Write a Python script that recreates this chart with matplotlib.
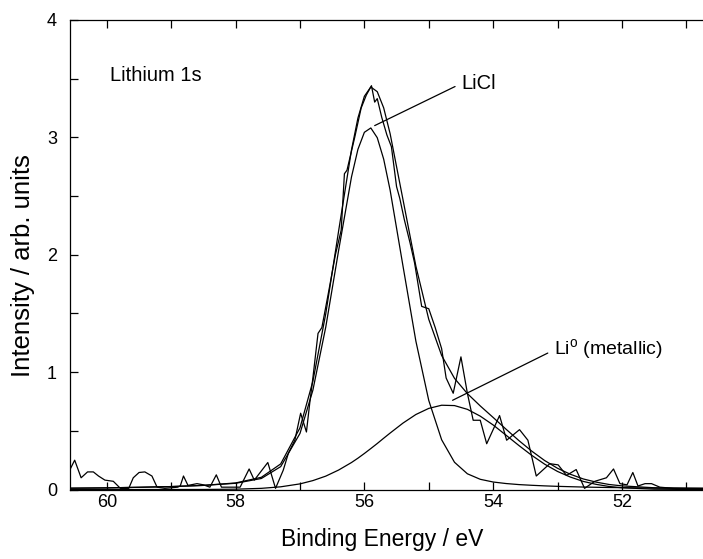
import matplotlib
matplotlib.use("Agg")
import matplotlib.pyplot as plt
from matplotlib.ticker import MultipleLocator

plt.rcParams['font.family'] = ['Liberation Sans', 'DejaVu Sans']
plt.rcParams['mathtext.fontset'] = 'custom'
plt.rcParams['mathtext.rm'] = 'Liberation Sans'

# measured spectrum (binding energy / eV, intensity)
raw_e = [60.60, 60.50, 60.40, 60.30, 60.21, 60.13, 60.03, 59.90, 59.79, 59.66,
         59.59, 59.50, 59.41, 59.30, 59.22, 59.10, 59.00, 58.90, 58.86, 58.81,
         58.74, 58.60, 58.50, 58.40, 58.30, 58.22, 58.10, 57.93, 57.79, 57.71,
         57.50, 57.38, 57.26, 57.18, 57.08, 56.99, 56.90, 56.85, 56.80, 56.72,
         56.66, 56.55, 56.45, 56.36, 56.31, 56.27, 56.15, 56.05, 55.97, 55.89,
         55.84, 55.80, 55.73, 55.65, 55.58, 55.50, 55.45, 55.38, 55.29, 55.22,
         55.11, 55.00, 54.90, 54.80, 54.73, 54.62, 54.50, 54.40, 54.31, 54.20,
         54.10, 53.90, 53.79, 53.59, 53.46, 53.33, 53.12, 52.99, 52.86, 52.71,
         52.58, 52.42, 52.24, 52.13, 52.03, 51.92, 51.83, 51.75, 51.64, 51.54,
         51.41, 51.20, 51.00, 50.74]
raw_i = [0.14, 0.25, 0.10, 0.15, 0.15, 0.115, 0.08, 0.07, 0.01, 0.01,
         0.10, 0.145, 0.15, 0.115, 0.02, 0.01, 0.015, 0.02, 0.03, 0.115,
         0.035, 0.05, 0.04, 0.02, 0.125, 0.02, 0.02, 0.02, 0.175, 0.08,
         0.23, 0.01, 0.165, 0.31, 0.42, 0.65, 0.49, 0.73, 0.95, 1.33,
         1.38, 1.70, 2.00, 2.21, 2.69, 2.72, 3.00, 3.25, 3.36, 3.44,
         3.30, 3.33, 3.17, 3.02, 2.92, 2.58, 2.48, 2.30, 2.10, 1.93,
         1.56, 1.54, 1.38, 1.20, 0.95, 0.82, 1.13, 0.82, 0.59, 0.59,
         0.39, 0.63, 0.42, 0.51, 0.42, 0.115, 0.22, 0.21, 0.12, 0.17,
         0.01, 0.07, 0.10, 0.175, 0.05, 0.04, 0.145, 0.03, 0.05, 0.05,
         0.02, 0.01, 0.01, 0.01]

# fitted components
fit_e = [60.6, 60.0, 59.5, 59.0, 58.5, 58.0, 57.6, 57.3, 57.0, 56.8,
         56.6, 56.4, 56.2, 56.1, 56.0, 55.9, 55.8, 55.7, 55.6, 55.4,
         55.2, 55.0, 54.8, 54.6, 54.4, 54.2, 54.0, 53.8, 53.6, 53.4,
         53.2, 53.0, 52.8, 52.6, 52.4, 52.2, 52.0, 51.5, 51.0, 50.7]
licl = [0.011, 0.014, 0.019, 0.025, 0.035, 0.053, 0.094, 0.195, 0.478, 0.846,
        1.383, 2.037, 2.663, 2.898, 3.043, 3.080, 2.997, 2.814, 2.550, 1.903,
        1.264, 0.759, 0.424, 0.232, 0.134, 0.087, 0.064, 0.051, 0.042, 0.036,
        0.031, 0.027, 0.024, 0.021, 0.019, 0.017, 0.016, 0.012, 0.010, 0.009]
li_metal = [0.0, 0.0, 0.0, 0.0001, 0.0004, 0.003, 0.010, 0.023, 0.048, 0.076,
            0.114, 0.166, 0.230, 0.267, 0.307, 0.349, 0.392, 0.437, 0.481, 0.566,
            0.639, 0.691, 0.718, 0.715, 0.683, 0.625, 0.550, 0.463, 0.375, 0.291,
            0.216, 0.154, 0.106, 0.069, 0.044, 0.026, 0.015, 0.003, 0.0005, 0.0002]
envelope = [a + b for a, b in zip(licl, li_metal)]

fig = plt.figure(figsize=(7.03, 5.59), dpi=100)
ax = fig.add_axes([0.0989, 0.1243, 0.9011, 0.84])

lw = 0.9
ax.plot(raw_e, raw_i, color='black', lw=lw)
ax.plot(fit_e, envelope, color='black', lw=lw)
ax.plot(fit_e, licl, color='black', lw=lw)
ax.plot(fit_e, li_metal, color='black', lw=lw)

ax.set_xlim(60.58, 50.74)
ax.set_ylim(0, 4)

ax.xaxis.set_major_locator(MultipleLocator(2))
ax.xaxis.set_minor_locator(MultipleLocator(1))
ax.yaxis.set_major_locator(MultipleLocator(1))
ax.yaxis.set_minor_locator(MultipleLocator(0.5))
ax.tick_params(which='both', direction='in', length=6, width=0.9,
               top=True, right=False, labelsize=13)
ax.tick_params(axis='x', pad=3)
ax.tick_params(axis='y', pad=9)
ax.spines['right'].set_visible(False)
for s in ['left', 'top', 'bottom']:
    ax.spines[s].set_linewidth(0.9)

ax.set_xlabel('Binding Energy / eV', fontsize=16.5)
ax.set_ylabel('Intensity / arb. units', fontsize=18.5)
ax.xaxis.set_label_coords(0.493, -0.082)
ax.yaxis.set_label_coords(-0.055, 0.476)

ax.text(59.95, 3.53, 'Lithium 1s', fontsize=14.5, va='center', ha='left')

ax.annotate('LiCl', xy=(55.84, 3.10), xytext=(54.49, 3.46),
            fontsize=14.5, va='center', ha='left',
            arrowprops=dict(arrowstyle='-', lw=lw, color='black',
                            shrinkA=3, shrinkB=0, relpos=(0, 0.5)))
ax.annotate(r'Li$^{\mathrm{o}}$ (metallic)', xy=(54.63, 0.76), xytext=(53.05, 1.19),
            fontsize=14, va='center', ha='left',
            arrowprops=dict(arrowstyle='-', lw=lw, color='black',
                            shrinkA=3, shrinkB=0, relpos=(0, 0.5)))

fig.savefig('out.png', dpi=100)
